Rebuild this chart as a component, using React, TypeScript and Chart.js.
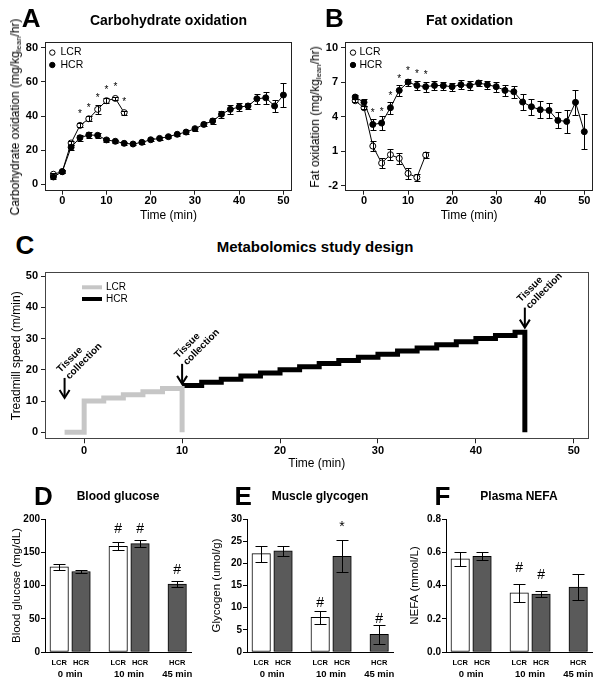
import React, { useEffect, useRef } from 'react';
import { Chart, registerables } from 'chart.js';

Chart.register(...registerables);

const FONT = "'Liberation Sans', Arial, Helvetica, sans-serif";
Chart.defaults.font.family = FONT;
Chart.defaults.color = '#000';

// ---------------- Panel A: carbohydrate oxidation ----------------
const timeHCR = [-2, 0, 2, 4, 6, 8, 10, 12, 14, 16, 18, 20, 22, 24, 26, 28, 30, 32, 34, 36, 38, 40, 42, 44, 46, 48, 50];
const timeLCR = [-2, 0, 2, 4, 6, 8, 10, 12, 14];
const carbHCR = [4.3, 7.4, 21.7, 27.3, 28.9, 28.7, 26.0, 25.2, 24.0, 23.6, 24.6, 26.1, 26.9, 27.9, 29.3, 30.6, 32.6, 35.1, 37.1, 41.0, 43.9, 45.3, 45.9, 50.1, 50.7, 45.9, 52.3];
const carbHCRErr = [1.0, 1.0, 1.5, 1.8, 2.0, 1.5, 1.0, 0.8, 0.8, 0.8, 0.8, 1.0, 1.0, 1.0, 1.0, 1.0, 1.2, 1.2, 1.5, 2.2, 2.5, 2.3, 2.0, 2.8, 3.5, 3.5, 7.2];
const carbLCR = [5.9, 7.4, 24.2, 34.5, 38.4, 43.9, 49.0, 50.3, 42.0];
const carbLCRErr = [1.0, 1.0, 1.2, 1.2, 1.6, 2.5, 1.6, 1.0, 1.2];
const carbLCRSig = ['', '', '', '*', '*', '*', '*', '*', '*'];
const carbTicksX = [0, 10, 20, 30, 40, 50];
const carbTicksY = [0, 20, 40, 60, 80];

// ---------------- Panel B: fat oxidation ----------------
const fatHCR = [5.71, 5.25, 3.33, 3.45, 4.78, 6.29, 7.01, 6.72, 6.61, 6.72, 6.70, 6.61, 6.78, 6.72, 6.93, 6.78, 6.61, 6.29, 6.17, 5.28, 4.87, 4.61, 4.55, 3.68, 3.59, 5.25, 2.70];
const fatHCRErr = [0.2, 0.3, 0.45, 0.6, 0.5, 0.45, 0.3, 0.4, 0.45, 0.4, 0.35, 0.35, 0.4, 0.4, 0.3, 0.35, 0.45, 0.45, 0.5, 0.7, 0.7, 0.75, 0.65, 0.7, 1.0, 1.1, 1.5];
const fatHCRSig = ['', '', '*', '*', '*', '*', '*', '*', '*', '', '', '', '', '', '', '', '', '', '', '', '', '', '', '', '', '', ''];
const fatLCR = [5.39, 4.78, 1.45, -0.03, 0.70, 0.38, -0.93, -1.28, 0.67];
const fatLCRErr = [0.15, 0.15, 0.4, 0.45, 0.5, 0.5, 0.45, 0.3, 0.25];
const fatTicksX = [0, 10, 20, 30, 40, 50];
const fatTicksY = [-2, 1, 4, 7, 10];

// ---------------- Panel C: study design ----------------
const lcrSpeedTimes = [-2, 0, 2, 4, 6, 8, 10];
const lcrSpeed = [0, 10, 11, 12, 13, 14, 0];
const hcrSpeedTimes = [10, 12, 14, 16, 18, 20, 22, 24, 26, 28, 30, 32, 34, 36, 38, 40, 42, 44, 45];
const hcrSpeed = [15, 16, 17, 18, 19, 20, 21, 22, 23, 24, 25, 26, 27, 28, 29, 30, 31, 32, 0];
const tissueTimes = [-2, 10, 45];
const tissueArrowAt = [11, 15.5, 33.5];
const tissueText = ['Tissue', 'collection'];
const designTicksX = [0, 10, 20, 30, 40, 50];
const designTicksY = [0, 10, 20, 30, 40, 50];

// ---------------- Panels D-F: bars ----------------
const barLabels = ['LCR', 'HCR', 'LCR', 'HCR', 'HCR'];
const groupLabels = ['0 min', '10 min', '45 min'];
const glucose = [128, 121, 159, 163, 102];
const glucoseErr = [4, 2, 6, 5, 5];
const glucoseSig = ['', '', '#', '#', '#'];
const glucoseSigAt = [0, 0, 179, 179, 118];
const glucoseTicks = [0, 50, 100, 150, 200];
const glycogen = [22.2, 22.8, 7.8, 21.6, 4.0];
const glycogenErr = [1.8, 1.2, 1.4, 3.6, 2.2];
const glycogenSig = ['', '', '#', '*', '#'];
const glycogenSigAt = [0, 0, 10.2, 27.3, 6.5];
const glycogenTicks = [0, 5, 10, 15, 20, 25, 30];
const nefa = [0.56, 0.576, 0.356, 0.348, 0.39];
const nefaErr = [0.043, 0.023, 0.056, 0.016, 0.078];
const nefaSig = ['', '', '#', '#', ''];
const nefaSigAt = [0, 0, 0.483, 0.437, 0];
const nefaTicks = [0, 0.2, 0.4, 0.6, 0.8];

// layout (slot positions of bars / group centres on the bar x axis)
const barSlots = [1, 2, 3.7, 4.7, 6.4];
const groupSlots = [1.5, 4.2, 6.4];

// ---------------- helpers ----------------
const fixedTicks = (vals: number[]) => (s: any) => {
  s.ticks = vals.map((v) => ({ value: v }));
};

const framePlugin = (color: string) => ({
  id: 'frame',
  afterDatasetsDraw(chart: any) {
    const { ctx, chartArea: a } = chart;
    ctx.save();
    ctx.strokeStyle = color;
    ctx.lineWidth = 1;
    const l = Math.round(a.left) + 0.5;
    const t = Math.round(a.top) + 0.5;
    const r = Math.round(a.right) - 0.5;
    const b = Math.round(a.bottom) - 0.5;
    ctx.strokeRect(l, t, r - l, b - t);
    ctx.restore();
  },
});

const errorBarPlugin = {
  id: 'errbars',
  afterDatasetsDraw(chart: any) {
    const ctx = chart.ctx;
    const ys = chart.scales.y;
    chart.data.datasets.forEach((ds: any, di: number) => {
      if (!ds.errors) return;
      const meta = chart.getDatasetMeta(di);
      ctx.save();
      ctx.strokeStyle = '#000';
      ctx.lineWidth = 1;
      meta.data.forEach((el: any, i: number) => {
        const v = ds.data[i].y;
        const e = ds.errors[i];
        const x = Math.round(el.x) + 0.5;
        const y1 = Math.round(ys.getPixelForValue(v + e)) + 0.5;
        const y2 = Math.round(ys.getPixelForValue(v - e)) + 0.5;
        const c = ds.cap;
        ctx.beginPath();
        ctx.moveTo(x, y1);
        ctx.lineTo(x, y2);
        ctx.moveTo(x - c, y1);
        ctx.lineTo(x + c, y1);
        ctx.moveTo(x - c, y2);
        ctx.lineTo(x + c, y2);
        ctx.stroke();
      });
      ctx.restore();
    });
  },
};

const marksPlugin = {
  id: 'marks',
  afterDatasetsDraw(chart: any) {
    const ctx = chart.ctx;
    const ys = chart.scales.y;
    chart.data.datasets.forEach((ds: any, di: number) => {
      if (!ds.marks) return;
      const meta = chart.getDatasetMeta(di);
      ctx.save();
      ctx.font = ds.markFont;
      ctx.fillStyle = '#000';
      ctx.textAlign = 'center';
      ctx.textBaseline = 'alphabetic';
      meta.data.forEach((el: any, i: number) => {
        const m = ds.marks[i];
        if (!m) return;
        const y = ds.markAt ? ys.getPixelForValue(ds.markAt[i]) : el.y - ds.markOffset;
        ctx.fillText(m, el.x, y);
      });
      ctx.restore();
    });
  },
};

function insetLegend(o: { dx: number; dy: number; gap: number; textDx: number; size: number; line?: boolean; lineLen?: number }) {
  return {
    id: 'insetLegend',
    afterDraw(chart: any) {
      const { ctx, chartArea: a } = chart;
      const dss = [...chart.data.datasets].sort((p: any, q: any) => p.legendOrder - q.legendOrder);
      ctx.save();
      ctx.font = `${o.size}px ${FONT}`;
      ctx.textBaseline = 'middle';
      ctx.textAlign = 'left';
      dss.forEach((ds: any, i: number) => {
        const cx = a.left + o.dx;
        const cy = a.top + o.dy + i * o.gap;
        if (o.line) {
          ctx.strokeStyle = ds.borderColor;
          ctx.lineWidth = 4;
          ctx.beginPath();
          ctx.moveTo(cx, cy);
          ctx.lineTo(cx + (o.lineLen || 20), cy);
          ctx.stroke();
        } else {
          ctx.beginPath();
          ctx.arc(cx, cy, 2.7, 0, Math.PI * 2);
          ctx.fillStyle = ds.pointBackgroundColor;
          ctx.fill();
          ctx.strokeStyle = '#000';
          ctx.lineWidth = 1;
          ctx.stroke();
        }
        ctx.fillStyle = '#000';
        ctx.fillText(ds.label, a.left + o.textDx, cy);
      });
      ctx.restore();
    },
  };
}

const tissuePlugin = {
  id: 'tissue',
  afterDatasetsDraw(chart: any) {
    const { ctx, scales } = chart;
    ctx.save();
    tissueTimes.forEach((t, i) => {
      const px = scales.x.getPixelForValue(t);
      const tip = scales.y.getPixelForValue(tissueArrowAt[i]);
      const top = tip - 20;
      ctx.strokeStyle = '#000';
      ctx.lineWidth = 2;
      ctx.beginPath();
      ctx.moveTo(px, top);
      ctx.lineTo(px, tip - 1);
      ctx.stroke();
      ctx.beginPath();
      ctx.moveTo(px - 5, tip - 8);
      ctx.lineTo(px, tip);
      ctx.lineTo(px + 5, tip - 8);
      ctx.stroke();
      ctx.save();
      ctx.translate(px - 4, top - 5);
      ctx.rotate(-Math.PI / 4);
      ctx.font = `bold 10px ${FONT}`;
      ctx.fillStyle = '#000';
      ctx.textAlign = 'left';
      ctx.textBaseline = 'alphabetic';
      ctx.fillText(tissueText[0], 0, 0);
      ctx.fillText(tissueText[1], 1.5, 11);
      ctx.restore();
    });
    ctx.restore();
  },
};

function boxedAxes(p: {
  xMin: number; xMax: number; xTicks: number[];
  yMin: number; yMax: number; yTicks: number[];
  xHeight: number; yWidth: number; tickSize: number;
  xTitle: string; xTitlePad: number; xLabelPad: number;
  yTitle?: string; yTitlePad?: number; yTitleSize?: number;
}) {
  const grid = { display: true, drawOnChartArea: false, drawTicks: true, tickLength: 4, color: '#222', lineWidth: 1 };
  return {
    x: {
      type: 'linear',
      min: p.xMin,
      max: p.xMax,
      afterBuildTicks: fixedTicks(p.xTicks),
      afterFit: (s: any) => { s.height = p.xHeight; s.paddingLeft = 0; s.paddingRight = 0; },
      grid,
      border: { display: false },
      ticks: { font: { size: p.tickSize, weight: 'bold' }, color: '#000', padding: p.xLabelPad, maxRotation: 0, autoSkip: false },
      title: { display: true, text: p.xTitle, font: { size: 12 }, color: '#000', padding: { top: 0, bottom: p.xTitlePad } },
    },
    y: {
      type: 'linear',
      min: p.yMin,
      max: p.yMax,
      afterBuildTicks: fixedTicks(p.yTicks),
      afterFit: (s: any) => { s.width = p.yWidth; s.paddingTop = 0; s.paddingBottom = 0; },
      grid,
      border: { display: false },
      ticks: { font: { size: p.tickSize, weight: 'bold' }, color: '#000', padding: 3, autoSkip: false },
      title: p.yTitle
        ? { display: true, text: p.yTitle, font: { size: p.yTitleSize || 12 }, color: '#000', padding: { top: p.yTitlePad, bottom: 0 } }
        : { display: false },
    },
  };
}

function lineDataset(label: string, times: number[], vals: number[], errs: number[], open: boolean, extra: any) {
  return {
    label,
    data: times.map((t, i) => ({ x: t, y: vals[i] })),
    errors: errs,
    cap: 3,
    borderColor: '#000',
    borderWidth: 1,
    pointRadius: 3,
    pointBackgroundColor: open ? '#fff' : '#000',
    pointBorderColor: '#000',
    pointBorderWidth: 1,
    ...extra,
  };
}

const baseOpts = (padding: any) => ({
  animation: false,
  responsive: false,
  layout: { padding },
  plugins: { legend: { display: false }, tooltip: { enabled: false } },
});

const makeA = () => ({
  type: 'line',
  data: {
    datasets: [
      lineDataset('HCR', timeHCR, carbHCR, carbHCRErr, false, { legendOrder: 2 }),
      lineDataset('LCR', timeLCR, carbLCR, carbLCRErr, true, {
        legendOrder: 1, marks: carbLCRSig, markOffset: 8, markFont: `10px ${FONT}`,
      }),
    ],
  },
  options: {
    ...baseOpts({ top: 12.3, right: 8, bottom: 0, left: 0 }),
    scales: boxedAxes({
      xMin: -3.9, xMax: 51.94, xTicks: carbTicksX,
      yMin: -3.75, yMax: 83.2, yTicks: carbTicksY,
      xHeight: 39.3, yWidth: 45, tickSize: 11,
      xTitle: 'Time (min)', xTitlePad: 6.8, xLabelPad: 0,
    }),
  },
  plugins: [framePlugin('#222'), errorBarPlugin, marksPlugin, insetLegend({ dx: 7.3, dy: 10.3, gap: 12.4, textDx: 15.5, size: 10.5 })],
});

const makeB = () => ({
  type: 'line',
  data: {
    datasets: [
      lineDataset('HCR', timeHCR, fatHCR, fatHCRErr, false, {
        legendOrder: 2, marks: fatHCRSig, markOffset: 8.5, markFont: `10px ${FONT}`,
      }),
      lineDataset('LCR', timeLCR, fatLCR, fatLCRErr, true, { legendOrder: 1 }),
    ],
  },
  options: {
    ...baseOpts({ top: 12.3, right: 9.7, bottom: 0, left: 0 }),
    scales: boxedAxes({
      xMin: -4.31, xMax: 52.04, xTicks: fatTicksX,
      yMin: -2.43, yMax: 10.47, yTicks: fatTicksY,
      xHeight: 39.3, yWidth: 45, tickSize: 11,
      xTitle: 'Time (min)', xTitlePad: 6.8, xLabelPad: 0,
    }),
  },
  plugins: [framePlugin('#222'), errorBarPlugin, marksPlugin, insetLegend({ dx: 8, dy: 10.3, gap: 12.4, textDx: 14.5, size: 10.5 })],
});

const makeC = () => ({
  type: 'line',
  data: {
    datasets: [
      {
        label: 'LCR', legendOrder: 1,
        data: lcrSpeedTimes.map((t, i) => ({ x: t, y: lcrSpeed[i] })),
        stepped: 'before', borderColor: '#c6c6c6', borderWidth: 5, pointRadius: 0,
        borderCapStyle: 'butt', borderJoinStyle: 'miter',
      },
      {
        label: 'HCR', legendOrder: 2,
        data: hcrSpeedTimes.map((t, i) => ({ x: t, y: hcrSpeed[i] })),
        stepped: 'before', borderColor: '#000', borderWidth: 5, pointRadius: 0,
        borderCapStyle: 'butt', borderJoinStyle: 'miter',
      },
    ],
  },
  options: {
    ...baseOpts({ top: 10.3, right: 14.5, bottom: 0, left: 0 }),
    scales: boxedAxes({
      xMin: -4.0, xMax: 51.5, xTicks: designTicksX,
      yMin: -2.24, yMax: 51.2, yTicks: designTicksY,
      xHeight: 40.7, yWidth: 45, tickSize: 11,
      xTitle: 'Time (min)', xTitlePad: 8.8, xLabelPad: 1,
      yTitle: 'Treadmill speed (m/min)', yTitlePad: 9.3, yTitleSize: 12,
    }),
  },
  plugins: [framePlugin('#444'), tissuePlugin, insetLegend({ dx: 37, dy: 15, gap: 11.7, textDx: 61, size: 10, line: true, lineLen: 20 })],
});

function makeBars(p: {
  values: number[]; errs: number[]; sig: string[]; sigAt: number[];
  yTicks: number[]; yMax: number; yTitle: string; yWidth: number; padRight: number; titlePad: number;
  fmt?: (v: number) => string;
}) {
  return () => ({
    type: 'bar',
    data: {
      datasets: [
        {
          data: barSlots.map((s, i) => ({ x: s, y: p.values[i] })),
          backgroundColor: barLabels.map((l) => (l === 'LCR' ? '#ffffff' : '#5a5a5a')),
          borderColor: '#000',
          borderWidth: 1,
          borderSkipped: false,
          barThickness: 18.5,
          errors: p.errs,
          cap: 6,
          marks: p.sig,
          markAt: p.sigAt,
          markFont: `14px ${FONT}`,
        },
      ],
    },
    options: {
      ...baseOpts({ top: 14, right: p.padRight, bottom: 0, left: 0 }),
      scales: {
        x: {
          type: 'linear', min: 0.35, max: 7.05, offset: false, weight: 0,
          afterBuildTicks: fixedTicks(barSlots),
          afterFit: (s: any) => { s.height = 13; s.paddingLeft = 0; s.paddingRight = 0; },
          grid: { display: false, drawTicks: false, offset: false },
          border: { display: true, color: '#000', width: 1 },
          ticks: { callback: (_v: any, i: number) => barLabels[i], font: { size: 7.5, weight: 'bold' }, padding: 6, maxRotation: 0, autoSkip: false, color: '#000' },
        },
        x2: {
          type: 'linear', position: 'bottom', min: 0.35, max: 7.05, offset: false, weight: 1,
          afterBuildTicks: fixedTicks(groupSlots),
          afterFit: (s: any) => { s.height = 22; s.paddingLeft = 0; s.paddingRight = 0; },
          grid: { display: false, drawTicks: false, offset: false },
          border: { display: false },
          ticks: { callback: (_v: any, i: number) => groupLabels[i], font: { size: 9.5, weight: 'bold' }, padding: 4, maxRotation: 0, autoSkip: false, color: '#000' },
        },
        y: {
          type: 'linear', min: 0, max: p.yMax,
          afterBuildTicks: fixedTicks(p.yTicks),
          afterFit: (s: any) => { s.width = p.yWidth; s.paddingTop = 0; s.paddingBottom = 0; },
          grid: { display: true, drawOnChartArea: false, drawTicks: true, tickLength: 4, color: '#000' },
          border: { display: true, color: '#000', width: 1 },
          ticks: { font: { size: 10, weight: 'bold' }, padding: 1, color: '#000', autoSkip: false, callback: p.fmt ? (v: any) => p.fmt!(Number(v)) : undefined },
          title: { display: true, text: p.yTitle, font: { size: 11.5 }, color: '#000', padding: { top: p.titlePad, bottom: 0 } },
        },
      },
    },
    plugins: [errorBarPlugin, marksPlugin],
  });
}

const makeD = makeBars({
  values: glucose, errs: glucoseErr, sig: glucoseSig, sigAt: glucoseSigAt,
  yTicks: glucoseTicks, yMax: 200, yTitle: 'Blood glucose (mg/dL)', yWidth: 45, padRight: 8.6, titlePad: 10.1,
});
const makeE = makeBars({
  values: glycogen, errs: glycogenErr, sig: glycogenSig, sigAt: glycogenSigAt,
  yTicks: glycogenTicks, yMax: 30, yTitle: 'Glycogen (umol/g)', yWidth: 47, padRight: 6.6, titlePad: 10.1,
});
const makeF = makeBars({
  values: nefa, errs: nefaErr, sig: nefaSig, sigAt: nefaSigAt,
  yTicks: nefaTicks, yMax: 0.8, yTitle: 'NEFA (mmol/L)', yWidth: 46, padRight: 10.6, titlePad: 8.1,
  fmt: (v) => v.toFixed(1),
});

function ChartCanvas({ left, top, width, height, make }: { left: number; top: number; width: number; height: number; make: () => any }) {
  const ref = useRef<HTMLCanvasElement>(null);
  useEffect(() => {
    const chart = new Chart(ref.current as HTMLCanvasElement, make());
    return () => chart.destroy();
  }, []);
  return (
    <canvas
      ref={ref}
      width={width}
      height={height}
      style={{ position: 'absolute', left, top, width, height, display: 'block' }}
    />
  );
}

function Txt({ x, y, size, bold, center, children }: { x: number; y: number; size: number; bold?: boolean; center?: boolean; children: any }) {
  return (
    <div
      style={{
        position: 'absolute',
        left: x,
        top: y - 0.8465 * size,
        fontSize: size,
        lineHeight: 1,
        fontWeight: bold ? 'bold' : 'normal',
        fontFamily: FONT,
        whiteSpace: 'nowrap',
        color: '#000',
        transform: center ? 'translateX(-50%)' : undefined,
      }}
    >
      {children}
    </div>
  );
}

function VTitle({ cx, cy, children }: { cx: number; cy: number; children: any }) {
  return (
    <div
      style={{
        position: 'absolute',
        left: cx,
        top: cy,
        transform: 'translate(-50%, -50%) rotate(-90deg)',
        fontSize: 12,
        lineHeight: 1,
        fontFamily: FONT,
        whiteSpace: 'nowrap',
        color: '#000',
      }}
    >
      {children}
    </div>
  );
}

const subStyle = { fontSize: '0.65em', lineHeight: 0, verticalAlign: '-0.25em' } as any;

export default function App() {
  return (
    <div style={{ position: 'absolute', left: 0, top: 0, width: 603, height: 687, background: '#fff', overflow: 'hidden' }}>
      <ChartCanvas left={0} top={30} width={300} height={200} make={makeA} />
      <ChartCanvas left={300} top={30} width={303} height={200} make={makeB} />
      <ChartCanvas left={0} top={262} width={603} height={218} make={makeC} />
      <ChartCanvas left={0} top={505} width={200} height={182} make={makeD} />
      <ChartCanvas left={200} top={505} width={200} height={182} make={makeE} />
      <ChartCanvas left={400} top={505} width={203} height={182} make={makeF} />

      <Txt x={21.7} y={26.7} size={26} bold>A</Txt>
      <Txt x={168.5} y={24.5} size={14} bold center>Carbohydrate oxidation</Txt>
      <Txt x={325} y={26.7} size={26} bold>B</Txt>
      <Txt x={469.5} y={24.5} size={14} bold center>Fat oxidation</Txt>
      <Txt x={15.4} y={254} size={26} bold>C</Txt>
      <Txt x={315} y={252} size={15} bold center>Metabolomics study design</Txt>
      <Txt x={34} y={505} size={26} bold>D</Txt>
      <Txt x={118} y={500} size={12} bold center>Blood glucose</Txt>
      <Txt x={234.6} y={505} size={26} bold>E</Txt>
      <Txt x={320} y={500} size={12} bold center>Muscle glycogen</Txt>
      <Txt x={434.6} y={505} size={26} bold>F</Txt>
      <Txt x={519} y={500} size={12} bold center>Plasma NEFA</Txt>

      <VTitle cx={14.5} cy={116.5}>
        Carbohydrate oxidation (mg/kg<sub style={subStyle}>lean</sub>/hr)
      </VTitle>
      <VTitle cx={315} cy={116.5}>
        Fat oxidation (mg/kg<sub style={subStyle}>lean</sub>/hr)
      </VTitle>
    </div>
  );
}
